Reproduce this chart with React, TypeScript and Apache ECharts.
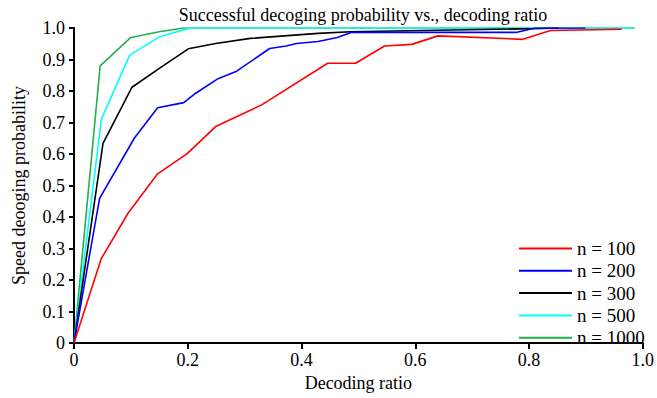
import React, { useEffect, useRef } from "react";
import * as echarts from "echarts";

const FONT = "Liberation Serif";

const seriesNames = ["n = 100", "n = 200", "n = 300", "n = 500", "n = 1000"];
const seriesColors = ["#ff0000", "#0000ff", "#000000", "#00ffff", "#22b04a"];

const redX = [0, 0.048, 0.095, 0.147, 0.199, 0.249, 0.33, 0.446, 0.495, 0.546, 0.594, 0.64, 0.789, 0.838, 0.963];
const redY = [0, 0.268, 0.412, 0.537, 0.601, 0.687, 0.756, 0.888, 0.888, 0.943, 0.948, 0.975, 0.964, 0.992, 0.996];

const blueX = [0, 0.045, 0.106, 0.147, 0.193, 0.214, 0.254, 0.286, 0.344, 0.373, 0.391, 0.429, 0.463, 0.487, 0.777, 0.809, 0.899];
const blueY = [0, 0.459, 0.65, 0.747, 0.763, 0.793, 0.84, 0.863, 0.935, 0.943, 0.951, 0.957, 0.97, 0.986, 0.986, 0.999, 1.0];

const blackX = [0, 0.051, 0.102, 0.15, 0.201, 0.249, 0.31, 0.429, 0.486, 0.809, 0.852];
const blackY = [0, 0.634, 0.812, 0.872, 0.934, 0.951, 0.967, 0.983, 0.988, 0.998, 1.0];

const cyanX = [0, 0.048, 0.098, 0.15, 0.205, 0.983];
const cyanY = [0, 0.71, 0.914, 0.972, 1.0, 1.0];

const greenX = [0, 0.046, 0.1, 0.15, 0.193, 0.986];
const greenY = [0, 0.88, 0.97, 0.988, 1.0, 1.0];

const allX = [redX, blueX, blackX, cyanX, greenX];
const allY = [redY, blueY, blackY, cyanY, greenY];

const zip = (xs: number[], ys: number[]) => xs.map((x, i) => [x, ys[i]]);

export default function App() {
  const ref = useRef<HTMLDivElement>(null);
  useEffect(() => {
    if (!ref.current) return;
    const chart = echarts.init(ref.current, null, { renderer: "svg" });
    const order = [4, 3, 2, 1, 0];
    const series = order.map((i) => ({
      name: seriesNames[i],
      type: "line",
      data: zip(allX[i], allY[i]),
      symbol: "none",
      lineStyle: { color: seriesColors[i], width: 1.6 },
      itemStyle: { color: seriesColors[i] },
    }));
    const txt = { fontFamily: FONT, fontSize: 18, fontWeight: "normal", color: "#000" };
    chart.setOption({
      animation: false,
      title: {
        text: "Successful decoging probability vs., decoding ratio",
        left: 358,
        textAlign: "center",
        top: 1,
        textStyle: { ...txt },
      },
      legend: {
        data: seriesNames,
        orient: "vertical",
        left: 514,
        top: 234,
        icon: "rect",
        itemWidth: 53,
        itemHeight: 2,
        itemGap: 3.3,
        textStyle: { ...txt, fontSize: 19, lineHeight: 18 },
      },
      grid: { left: 74, right: 9, top: 28, bottom: 55, containLabel: false },
      xAxis: {
        type: "value",
        min: 0,
        max: 1,
        interval: 0.2,
        name: "Decoding ratio",
        nameLocation: "middle",
        nameGap: 31,
        nameTextStyle: { ...txt },
        axisLine: { show: true, lineStyle: { color: "#000", width: 2 } },
        axisTick: { show: true, length: 6, lineStyle: { color: "#000", width: 2 } },
        axisLabel: {
          ...txt,
          margin: 8,
          formatter: (v: number) => (v === 0 ? "0" : v.toFixed(1)),
        },
        splitLine: { show: false },
      },
      yAxis: {
        type: "value",
        min: 0,
        max: 1,
        interval: 0.1,
        name: "Speed deooging probability",
        nameLocation: "middle",
        nameGap: 46,
        nameTextStyle: { ...txt },
        axisLine: { show: true, lineStyle: { color: "#000", width: 2 } },
        axisTick: { show: true, length: 5, lineStyle: { color: "#000", width: 2 } },
        axisLabel: {
          ...txt,
          margin: 9,
          formatter: (v: number) => (v === 0 ? "0" : v.toFixed(1)),
        },
        splitLine: { show: false },
      },
      series,
    });
    return () => chart.dispose();
  }, []);
  return <div ref={ref} style={{ width: 657, height: 398, position: "absolute", left: 0, top: 0 }} />;
}
